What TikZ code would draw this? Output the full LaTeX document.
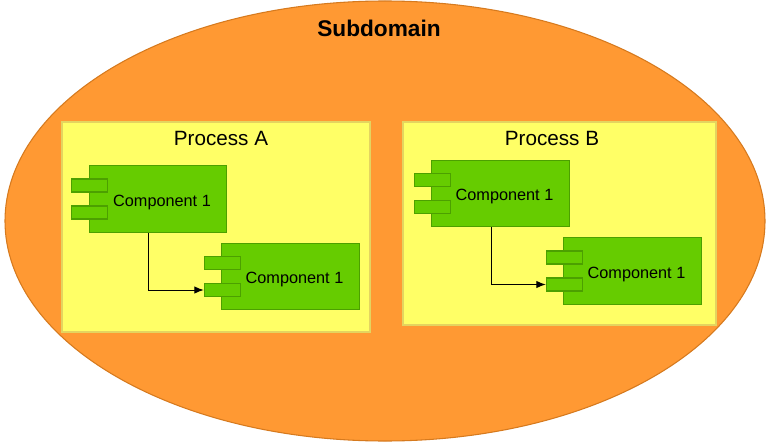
\documentclass[tikz,border=0pt]{standalone}
\usepackage{fontspec}
\setmainfont{Liberation Sans}
\usetikzlibrary{positioning}
\usetikzlibrary{calc}
\usetikzlibrary{arrows.meta}
\usetikzlibrary{shapes.geometric}
\definecolor{domorange}{RGB}{255,153,51}
\definecolor{domline}{RGB}{214,122,30}
\definecolor{procyellow}{RGB}{255,255,102}
\definecolor{procline}{RGB}{228,212,96}
\definecolor{compgreen}{RGB}{102,204,0}
\definecolor{compline}{RGB}{76,160,0}

\begin{document}
\begin{tikzpicture}[
    x=0.75pt, y=-0.75pt,
    >={Latex[length=7pt,width=5.5pt]},
    % node styles
    subdom/.style = {
      ellipse,
      draw=domline,
      fill=domorange,
      line width=0.8pt,
      inner sep=0pt,
      minimum width=570pt,
      minimum height=330pt
    },
    proc/.style = {
      draw=procline,
      fill=procyellow,
      line width=0.8pt,
      inner sep=0pt
    },
    proctitle/.style = {
      font=\fontsize{15.5}{18}\selectfont,
      inner sep=0pt
    },
    comp/.style = {
      draw=compline,
      fill=compgreen,
      line width=0.8pt,
      minimum width=103pt,
      minimum height=50pt,
      text height=13.5pt,
      text depth=2.6pt,
      font=\fontsize{12.2}{14}\selectfont
    },
    port/.style = {
      draw=compline,
      fill=compgreen,
      line width=0.8pt,
      inner sep=0pt,
      minimum width=27pt,
      minimum height=9.75pt
    },
    % arrow styles
    flow/.style = {->, line width=0.75pt, draw=black}
  ]
  \useasboundingbox (0,0) rectangle (780,442);

  % --- Subdomain
  \node[subdom] (subd) at (385,221) {};
  \node[font=\fontsize{17}{20}\selectfont\bfseries] (subdlbl) at (379,28) {Subdomain};

  % --- Processes
  \node[proc, minimum width=231pt, minimum height=157.5pt] (procA) at (216,227) {};
  \node[proc, minimum width=234.75pt, minimum height=152.25pt] (procB) at (559.5,223.5) {};
  \node[proctitle] (procAlbl) at (221,138) {Process A};
  \node[proctitle] (procBlbl) at (552,138) {Process B};

  % --- Components of process A
  \node[comp] (a1) at (158,199) {\hspace{6pt}Component 1};
  \node[port] (a1p1) at ($(a1.west)+(1,-13.5)$) {};
  \node[port] (a1p2) at ($(a1.west)+(1,13.5)$) {};
  \node[comp] (a2) at (290.5,276.5) {\hspace{6pt}Component 1};
  \node[port] (a2p1) at ($(a2.west)+(1,-13.5)$) {};
  \node[port] (a2p2) at ($(a2.west)+(1,13.5)$) {};

  % --- Components of process B
  \node[comp] (b1) at (500.5,193.5) {\hspace{6pt}Component 1};
  \node[port] (b1p1) at ($(b1.west)+(1,-13.5)$) {};
  \node[port] (b1p2) at ($(b1.west)+(1,13.5)$) {};
  \node[comp] (b2) at (632.5,271) {\hspace{6pt}Component 1};
  \node[port] (b2p1) at ($(b2.west)+(1,-13.5)$) {};
  \node[port] (b2p2) at ($(b2.west)+(1,13.5)$) {};

  % --- Arrows
  \draw[flow] ($(a1.south west)+(60,0)$) |- (a2p2.west);
  \draw[flow] ($(b1.south west)+(60,0)$) |- (b2p2.west);
\end{tikzpicture}
\end{document}
